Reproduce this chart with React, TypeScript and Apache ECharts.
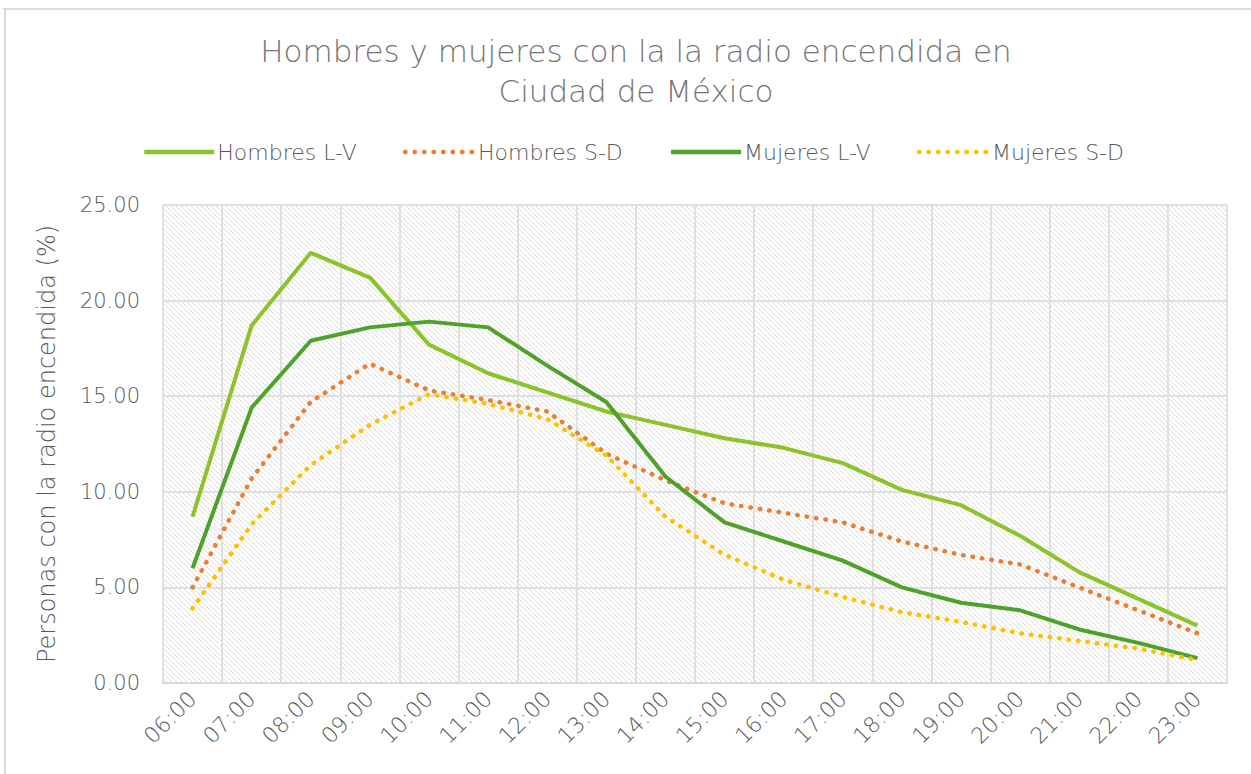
import React, { useEffect, useRef } from "react";
import * as echarts from "echarts";

const hours = ["06:00", "07:00", "08:00", "09:00", "10:00", "11:00", "12:00", "13:00", "14:00", "15:00", "16:00", "17:00", "18:00", "19:00", "20:00", "21:00", "22:00", "23:00"];
const hombresLV = [8.7, 18.7, 22.5, 21.2, 17.7, 16.2, 15.2, 14.2, 13.5, 12.8, 12.3, 11.5, 10.1, 9.3, 7.7, 5.8, 4.4, 3.0];
const hombresSD = [5.0, 10.7, 14.7, 16.7, 15.3, 14.8, 14.2, 12.0, 10.6, 9.4, 8.9, 8.4, 7.4, 6.7, 6.2, 5.0, 3.8, 2.6];
const mujeresLV = [6.0, 14.4, 17.9, 18.6, 18.9, 18.6, 16.6, 14.7, 10.8, 8.4, 7.4, 6.4, 5.0, 4.2, 3.8, 2.8, 2.1, 1.3];
const mujeresSD = [3.9, 8.3, 11.4, 13.5, 15.1, 14.6, 13.8, 11.9, 8.7, 6.7, 5.4, 4.5, 3.7, 3.2, 2.6, 2.2, 1.8, 1.2];

const FONT = "'DejaVu Sans', 'Noto Sans', sans-serif";

function makeHatch(): string {
  const c = document.createElement("canvas");
  const s = 5;
  c.width = s;
  c.height = s;
  const ctx = c.getContext("2d");
  if (ctx) {
    ctx.fillStyle = "#ffffff";
    ctx.fillRect(0, 0, s, s);
    ctx.strokeStyle = "#dcdcdc";
    ctx.lineWidth = 1;
    ctx.beginPath();
    ctx.moveTo(-1, -1);
    ctx.lineTo(s + 1, s + 1);
    ctx.moveTo(-1, s - 1);
    ctx.lineTo(1, s + 1);
    ctx.moveTo(s - 1, -1);
    ctx.lineTo(s + 1, 1);
    ctx.stroke();
  }
  return c.toDataURL();
}

export default function App() {
  const ref = useRef<HTMLDivElement>(null);
  useEffect(() => {
    document.body.style.margin = "0";
    if (!ref.current) return;
    const chart = echarts.init(ref.current, undefined, { renderer: "svg" });
    const hatch = makeHatch();
    const dotted = (color: string) => ({ color, width: 4.5, type: [0.5, 9] as number[], cap: "round" as const });
    chart.setOption({
      animation: false,
      backgroundColor: "#ffffff",
      title: {
        text: "Hombres y mujeres con la la radio encendida en\nCiudad de México",
        left: 631,
        textAlign: "center",
        top: 26,
        textStyle: { fontFamily: FONT, fontSize: 31, fontWeight: 200, color: "#767676", lineHeight: 40 },
      },
      legend: {
        top: 136,
        left: 137,
        itemWidth: 70,
        itemHeight: 10,
        itemGap: 46,
        itemStyle: { opacity: 0, borderWidth: 0 },
        lineStyle: { width: 4.5 },
        textStyle: { fontFamily: FONT, fontSize: 22, fontWeight: 200, color: "#595959", padding: [0, 0, 0, -2] },
        data: ["Hombres L-V", "Hombres S-D", "Mujeres L-V", "Mujeres S-D"],
      },
      grid: {
        left: 163,
        right: 24,
        top: 205,
        bottom: 91,
        show: true,
        borderWidth: 0,
        backgroundColor: { image: hatch, repeat: "repeat" },
      },
      xAxis: {
        type: "category",
        data: hours,
        boundaryGap: true,
        axisLine: { show: true, lineStyle: { color: "#d9d9d9", width: 2 } },
        axisTick: { show: false },
        axisLabel: { interval: 0, rotate: 45, margin: 12, fontFamily: FONT, fontSize: 22, fontWeight: 200, color: "#595959" },
        splitLine: { show: true, lineStyle: { color: "#e0e0e0", width: 2 } },
      },
      yAxis: {
        type: "value",
        min: 0,
        max: 25,
        interval: 5,
        name: "Personas con la radio encendida (%)",
        nameLocation: "middle",
        nameGap: 104,
        nameTextStyle: { fontFamily: FONT, fontSize: 24, fontWeight: 200, color: "#595959" },
        axisLine: { show: false },
        axisTick: { show: false },
        axisLabel: { margin: 23, fontFamily: FONT, fontSize: 21, fontWeight: 200, color: "#595959", formatter: (v: number) => v.toFixed(2) },
        splitLine: { show: true, lineStyle: { color: "#e0e0e0", width: 2 } },
      },
      graphic: [
        { type: "line", shape: { x1: 3, y1: 9, x2: 1251, y2: 9 }, style: { stroke: "#d9d9d9", lineWidth: 2 } },
        { type: "line", shape: { x1: 5, y1: 9, x2: 5, y2: 774 }, style: { stroke: "#d9d9d9", lineWidth: 2 } },
      ],
      series: [
        { name: "Hombres L-V", type: "line", data: hombresLV, showSymbol: false, symbol: "none", lineStyle: { color: "#8cc22a", width: 4 }, itemStyle: { color: "#8cc22a" } },
        { name: "Hombres S-D", type: "line", data: hombresSD, showSymbol: false, symbol: "none", lineStyle: dotted("#ed7d31"), itemStyle: { color: "#ed7d31" } },
        { name: "Mujeres L-V", type: "line", data: mujeresLV, showSymbol: false, symbol: "none", lineStyle: { color: "#4ea22a", width: 4 }, itemStyle: { color: "#4ea22a" } },
        { name: "Mujeres S-D", type: "line", data: mujeresSD, showSymbol: false, symbol: "none", lineStyle: dotted("#ffc000"), itemStyle: { color: "#ffc000" } },
      ],
    });
    return () => chart.dispose();
  }, []);
  return <div ref={ref} style={{ width: 1251, height: 774 }} />;
}
